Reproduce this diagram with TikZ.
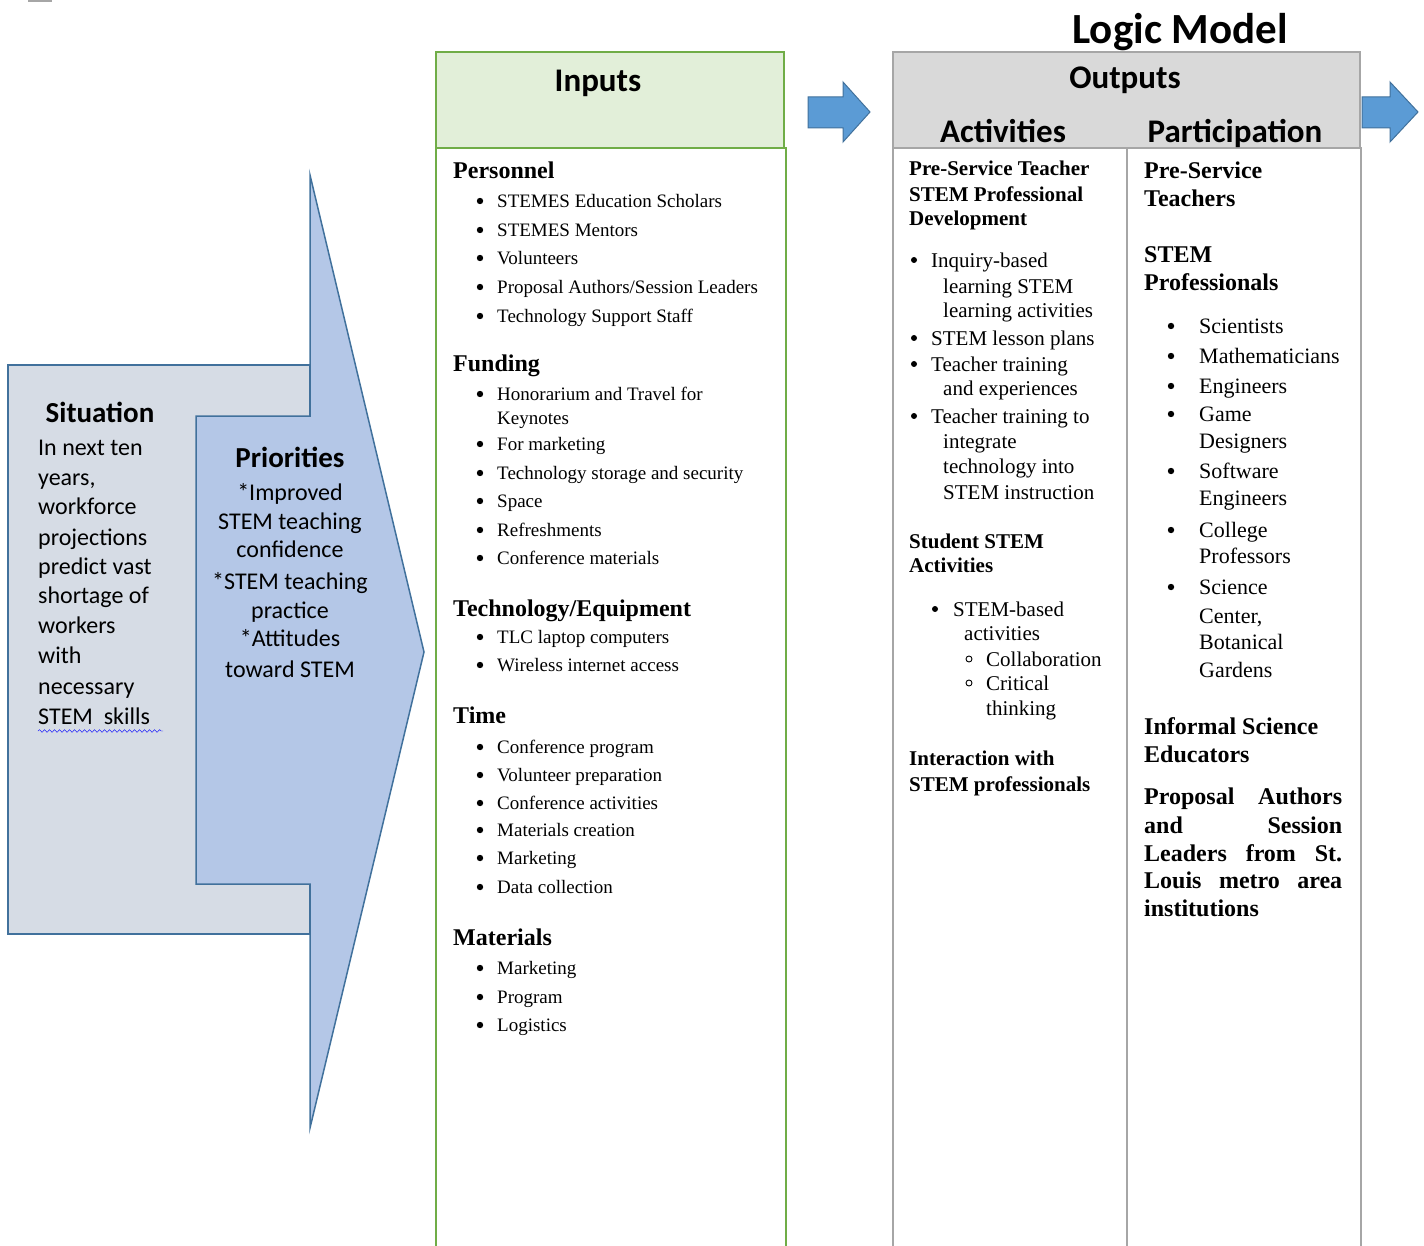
\documentclass[tikz,border=0pt]{standalone}
\usepackage{fontspec}
\setmainfont{Liberation Serif}
\newfontfamily\calib{Carlito}
\usetikzlibrary{decorations.pathmorphing}
\definecolor{sitfill}{HTML}{D6DCE5}
\definecolor{priofill}{HTML}{B4C7E7}
\definecolor{bluedge}{HTML}{41719C}
\definecolor{ingreen}{HTML}{70AD47}
\definecolor{inlight}{HTML}{E2EFD9}
\definecolor{outgray}{HTML}{A6A6A6}
\definecolor{outlight}{HTML}{D9D9D9}
\definecolor{arrblue}{HTML}{5B9BD5}
\begin{document}
\begin{tikzpicture}[x=1pt, y=-1pt, line join=miter,
	txt/.style={inner sep=0, text depth=0pt},
	sithead/.style={txt, text height=20.9pt, font=\calib\bfseries\fontsize{29}{32}\selectfont},
	sittxt/.style={txt, text height=17.3pt, font=\calib\fontsize{24}{29}\selectfont},
	boxhead/.style={txt, text height=23.8pt, font=\calib\bfseries\fontsize{33}{36}\selectfont},
	inhd/.style={txt, text height=17.3pt, anchor=west, font=\bfseries\fontsize{24}{28}\selectfont},
	initm/.style={txt, text height=13.7pt, anchor=west, font=\fontsize{19}{23}\selectfont},
	acthd/.style={txt, text height=15.1pt, anchor=west, font=\bfseries\fontsize{21}{25}\selectfont},
	actitm/.style={txt, text height=15.1pt, anchor=west, font=\fontsize{21}{25}\selectfont},
	parhd/.style={txt, text height=17.3pt, anchor=west, font=\bfseries\fontsize{24}{28}\selectfont},
	paritm/.style={txt, text height=15.8pt, anchor=west, font=\fontsize{22}{27}\selectfont},
	blockarrow/.style={draw=bluedge, fill=arrblue, line width=1}]
	\useasboundingbox (0,0) rectangle (1424,1246);
	\draw[gray!70, line width=2] (28,1) -- (52,1);
	% situation + priorities
	\draw[bluedge, fill=sitfill, line width=1.5] (8,365) rectangle (310,934);
	\draw[bluedge, fill=priofill, line width=1.5] (196,416) -- (310,416) -- (310,175) -- (424,652) -- (310,1128) -- (310,884) -- (196,884) -- cycle;
	\node[sithead] (sit) at (100,412) {Situation};
	\foreach \y/\t [count=\i] in {447/In next ten, 477/{years,}, 506/workforce, 537/projections, 566/predict vast, 595/shortage of, 625/workers, 655/with, 686/necessary, 716/STEM\ \ skills}
		\node[sittxt, anchor=west] (sit\i) at (38,\y) {\t};
	\draw[blue, decorate, decoration={snake, amplitude=1.4pt, segment length=5pt}] (38,731) -- (163,731);
	\node[sithead] (prio) at (290,457) {Priorities};
	\foreach \y/\t [count=\i] in {492/*Improved, 521/STEM teaching, 549/confidence, 581/*STEM teaching, 610/practice, 638/*Attitudes, 669/toward STEM}
		\node[sittxt] (prio\i) at (290,\y) {\t};
	% inputs
	\draw[ingreen, fill=inlight, line width=2.5] (436,52) rectangle (784,148);
	\draw[ingreen, line width=2.5] (436,1250) -- (436,148) -- (786,148) -- (786,1250);
	\node[boxhead] (inp) at (598,80) {Inputs};
	\foreach \y/\t [count=\i] in {170/Personnel, 363/Funding, 608/{Technology/Equipment}, 715/Time, 937/Materials}
		\node[inhd] (inhd\i) at (453,\y) {\t};
	\foreach \y/\t in {201/STEMES Education Scholars, 230/STEMES Mentors, 258/Volunteers, 287/{Proposal Authors/Session Leaders}, 316/Technology Support Staff, 394/Honorarium and Travel for, 444/For marketing, 473/Technology storage and security, 501/Space, 530/Refreshments, 558/Conference materials, 637/TLC laptop computers, 665/Wireless internet access, 747/Conference program, 775/Volunteer preparation, 803/Conference activities, 830/Materials creation, 858/Marketing, 887/Data collection, 968/Marketing, 997/Program, 1025/Logistics}{
		\fill (480,\y) circle (3.2pt);
		\node[initm] (in\y) at (497,\y) {\t};
	}
	\node[initm] (in418) at (497,418) {Keynotes};
	% arrows
	\draw[blockarrow] (808,97) -- (843,97) -- (843,82) -- (870,112) -- (843,142) -- (843,128) -- (808,128) -- cycle;
	\draw[blockarrow] (1362,97) -- (1390,97) -- (1390,82) -- (1418,112) -- (1390,142) -- (1390,128) -- (1362,128) -- cycle;
	% outputs
	\node[txt, text height=31pt, font=\calib\bfseries\fontsize{43}{46}\selectfont] (lm) at (1180,28) {Logic Model};
	\draw[outgray, fill=outlight, line width=2] (893,52) rectangle (1360,148);
	\draw[outgray, line width=2] (893,1250) -- (893,148) -- (1361,148) -- (1361,1250) (1127,148) -- (1127,1250);
	\node[boxhead] (outp) at (1125,77) {Outputs};
	\node[boxhead] (act) at (1003,131) {Activities};
	\node[boxhead] (par) at (1235,131) {Participation};
	\foreach \y/\t in {168/Pre-Service Teacher, 194/STEM Professional, 218/Development, 541/Student STEM, 565/Activities, 758/Interaction with, 784/STEM professionals}
		\node[acthd] (acthd\y) at (909,\y) {\t};
	\foreach \y/\t in {260/Inquiry-based, 338/STEM lesson plans, 364/Teacher training, 416/Teacher training to}{
		\fill (914,\y) circle (3pt);
		\node[actitm] (act\y) at (931,\y) {\t};
	}
	\foreach \y/\t in {286/learning STEM, 310/learning activities, 388/and experiences, 441/integrate, 466/technology into, 492/STEM instruction}
		\node[actitm] (act\y) at (943,\y) {\t};
	\fill (935,609) circle (3pt);
	\node[actitm] (act609) at (953,609) {STEM-based};
	\node[actitm] (act633) at (964,633) {activities};
	\foreach \y/\t in {659/Collaboration, 683/Critical}{
		\draw[line width=.9] (969,\y) circle (3pt);
		\node[actitm] (act\y) at (986,\y) {\t};
	}
	\node[actitm] (act708) at (986,708) {thinking};
	\foreach \y/\t in {170/Pre-Service, 198/Teachers, 254/STEM, 282/Professionals, 726/Informal Science, 754/Educators}
		\node[parhd] (parhd\y) at (1144,\y) {\t};
	\foreach \y/\t in {326/Scientists, 356/Mathematicians, 386/Engineers, 414/Game, 471/Software, 530/College, 587/Science}{
		\fill (1171,\y) circle (3.2pt);
		\node[paritm] (par\y) at (1199,\y) {\t};
	}
	\foreach \y/\t in {441/Designers, 498/Engineers, 556/Professors, 616/{Center,}, 642/Botanical, 670/Gardens}
		\node[paritm] (par\y) at (1199,\y) {\t};
	\foreach \y/\t in {796/Proposal\hfill Authors, 825/and\hfill Session, 853/Leaders\hfill from\hfill St., 880/Louis\hfill metro\hfill area}
		\node[parhd] (parj\y) at (1144,\y) {\makebox[198pt][s]{\t}};
	\node[parhd] (parj908) at (1144,908) {institutions};
\end{tikzpicture}
\end{document}
